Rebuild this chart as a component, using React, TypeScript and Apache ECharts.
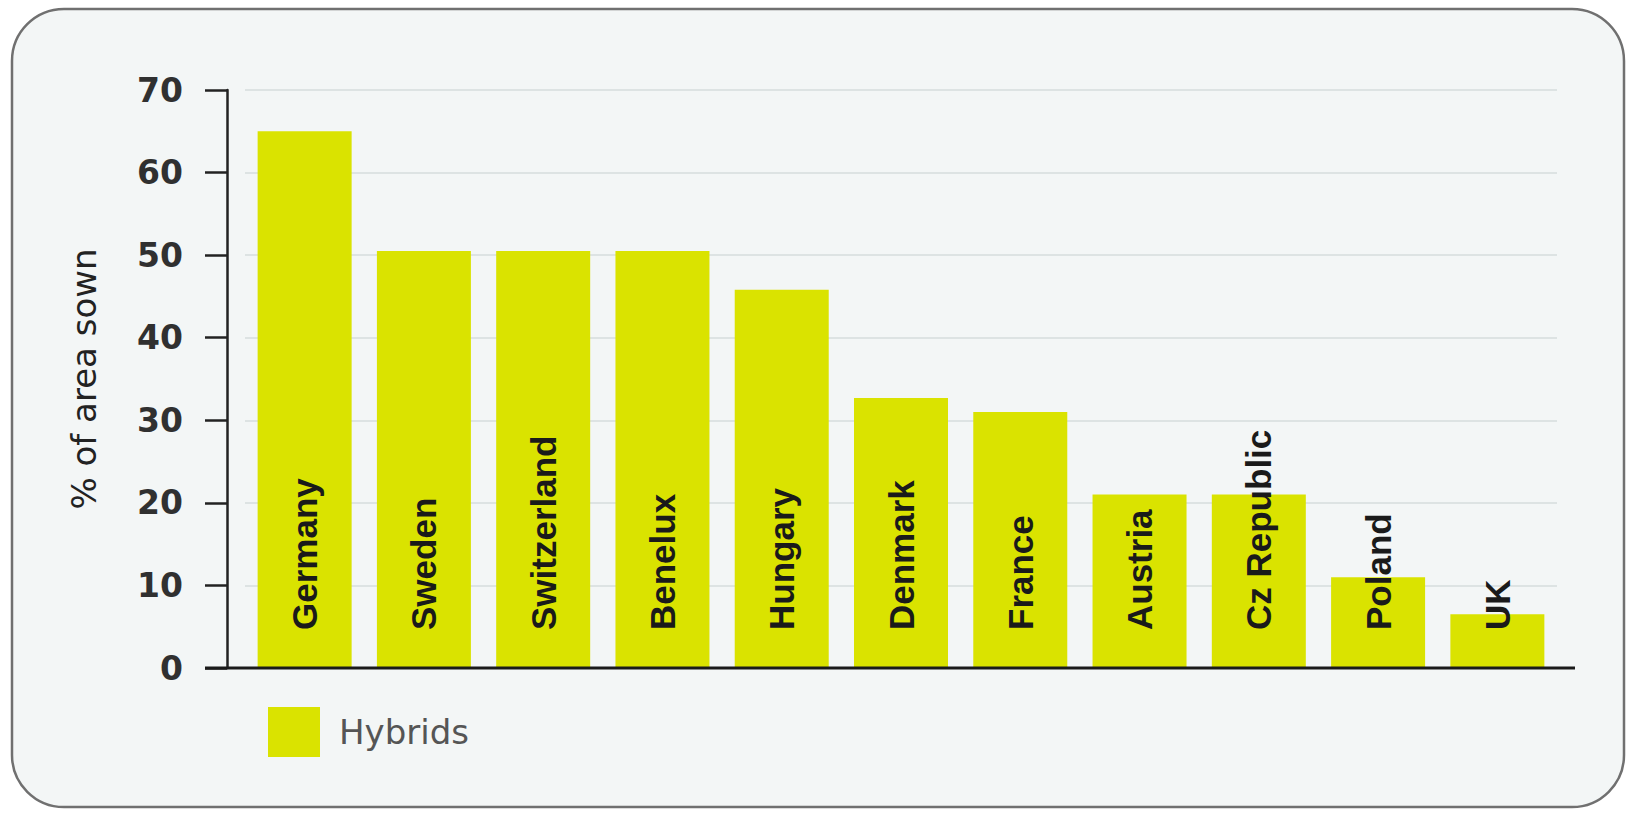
import React, { useEffect, useRef } from "react";
import * as echarts from "echarts";

const categories = [
  "Germany",
  "Sweden",
  "Switzerland",
  "Benelux",
  "Hungary",
  "Denmark",
  "France",
  "Austria",
  "Cz Republic",
  "Poland",
  "UK",
];
const hybrids = [65, 50.5, 50.5, 50.5, 45.8, 32.7, 31, 21, 21, 11, 6.5];
const yMin = 0;
const yMax = 70;
const yInterval = 10;
const seriesName = "Hybrids";
const yAxisTitle = "% of area sown";

export default function App() {
  const ref = useRef<HTMLDivElement>(null);
  useEffect(() => {
    if (!ref.current) return;
    const chart = echarts.init(ref.current, null, { renderer: "svg" });
    chart.setOption({
      animation: false,
      backgroundColor: "#ffffff",
      grid: { left: 245, right: 83, top: 90, bottom: 145 },
      legend: {
        data: [seriesName],
        left: 263,
        top: 702,
        icon: "rect",
        itemWidth: 52,
        itemHeight: 50,
        textStyle: {
          fontFamily: "DejaVu Sans",
          fontSize: 34,
          color: "#555555",
          padding: [0, 0, 0, 14],
        },
      },
      xAxis: {
        type: "category",
        data: categories,
        axisLine: { show: false },
        axisTick: { show: false },
        axisLabel: { show: false },
      },
      yAxis: {
        type: "value",
        min: yMin,
        max: yMax,
        interval: yInterval,
        offset: 18,
        name: yAxisTitle,
        nameLocation: "middle",
        nameGap: 126,
        nameTextStyle: {
          fontFamily: "DejaVu Sans",
          fontSize: 34,
          color: "#222",
        },
        axisLine: { show: true, lineStyle: { color: "#222", width: 2.5 } },
        axisTick: { show: true, length: 22, lineStyle: { color: "#222", width: 2.5 } },
        axisLabel: {
          margin: 44,
          fontFamily: "DejaVu Sans",
          fontWeight: "bold",
          fontSize: 33,
          color: "#303030",
        },
        splitLine: { show: true, lineStyle: { color: "#dde3e3", width: 2 } },
      },
      series: [
        {
          name: seriesName,
          type: "bar",
          data: hybrids,
          barWidth: 94,
          itemStyle: { color: "#dae300" },
          label: {
            show: true,
            position: "insideBottom",
            rotate: 90,
            align: "left",
            verticalAlign: "middle",
            distance: 38,
            formatter: "{b}",
            fontFamily: "Liberation Sans",
            fontWeight: "bold",
            fontSize: 35,
            color: "#1a1a1a",
          },
        },
      ],
      graphic: [
        {
          type: "rect",
          z: -100,
          silent: true,
          shape: { x: 12, y: 9, width: 1612, height: 798, r: 52 },
          style: { fill: "#f3f6f6", stroke: "#707070", lineWidth: 2.5 },
        },
      ],
    });
    const y0 = chart.convertToPixel({ yAxisIndex: 0 }, 0) as number;
    chart.setOption({
      graphic: [
        {},
        {
          type: "line",
          z: 100,
          silent: true,
          shape: { x1: 205, y1: y0, x2: 1575, y2: y0 },
          style: { stroke: "#1a1a1a", lineWidth: 3 },
        },
      ],
    });
    return () => chart.dispose();
  }, []);
  return (
    <div
      ref={ref}
      style={{ position: "fixed", left: 0, top: 0, width: 1640, height: 813 }}
    />
  );
}
